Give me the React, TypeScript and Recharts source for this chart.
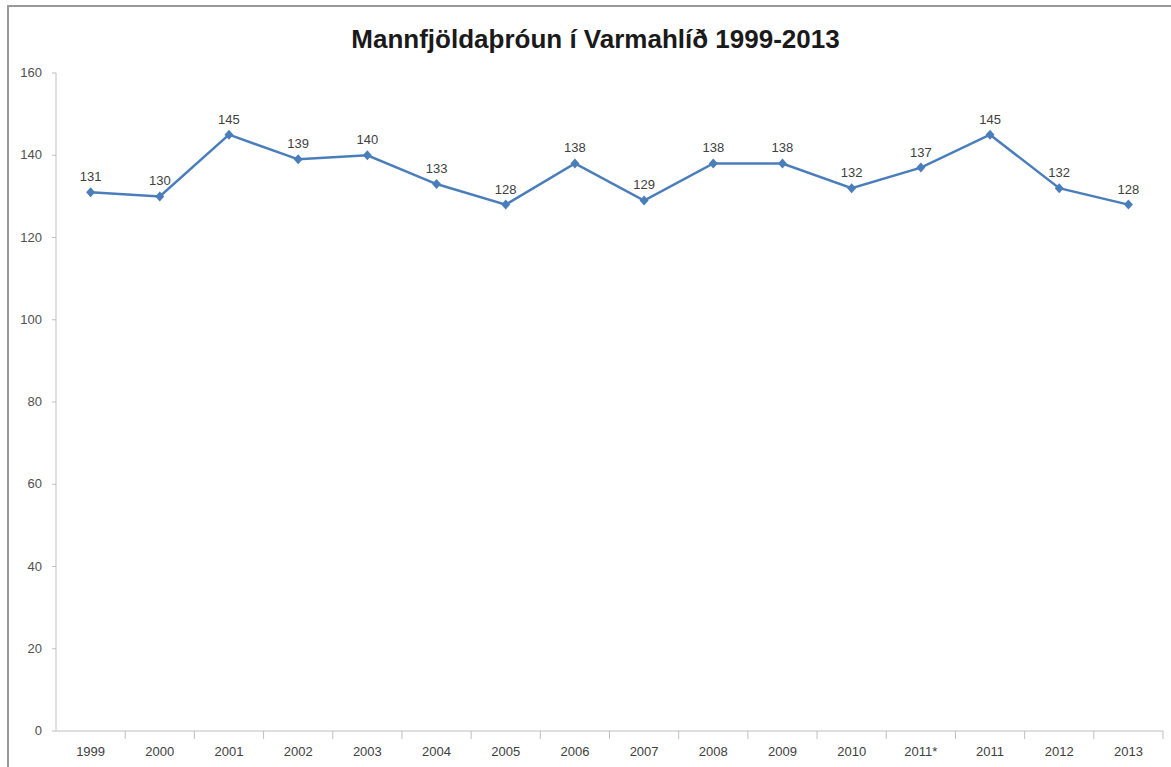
import React from 'react';
import { LineChart, Line, XAxis, YAxis, LabelList } from 'recharts';

const years = ['1999', '2000', '2001', '2002', '2003', '2004', '2005', '2006', '2007', '2008', '2009', '2010', '2011*', '2011', '2012', '2013'];
const population = [131, 130, 145, 139, 140, 133, 128, 138, 129, 138, 138, 132, 137, 145, 132, 128];
const yTicks = [0, 20, 40, 60, 80, 100, 120, 140, 160];

const data = years.map((year, i) => ({ year, value: population[i] }));

const W = 1171;
const H = 767;
const LEFT = 56;
const RIGHT = 8;
const band = (W - LEFT - RIGHT) / years.length;

const FONT = '"Liberation Sans", Arial, sans-serif';

function XTick(props: any) {
  const { x, y, payload } = props;
  return (
    <g>
      <line x1={x + band / 2} y1={y - 8} x2={x + band / 2} y2={y} stroke="#bfbfbf" />
      <text x={x} y={y + 17} textAnchor="middle" fontSize={13} fill="#404040" fontFamily={FONT}>
        {payload.value}
      </text>
    </g>
  );
}

function YTick(props: any) {
  const { x, y, payload } = props;
  return (
    <text x={x - 8} y={y + 4} textAnchor="end" fontSize={13} fill="#505050" fontFamily={FONT}>
      {payload.value}
    </text>
  );
}

export default function App() {
  return (
    <div style={{ position: 'absolute', left: 0, top: 0, width: W, height: H, background: '#fff', overflow: 'hidden' }}>
      <div
        style={{
          position: 'absolute',
          left: 7,
          top: 5,
          width: W,
          height: H,
          borderLeft: '2px solid #9a9a9a',
          borderTop: '2px solid #9a9a9a',
        }}
      />
      <div
        style={{
          position: 'absolute',
          left: 20,
          width: W - 20,
          top: 24,
          textAlign: 'center',
          fontFamily: FONT,
          fontWeight: 'bold',
          fontSize: 26,
          color: '#1a1a1a',
        }}
      >
        Mannfjöldaþróun í Varmahlíð 1999-2013
      </div>
      <div style={{ position: 'absolute', left: 0, top: 0 }}>
        <LineChart width={W} height={H} data={data} margin={{ top: 73, right: RIGHT, left: 0, bottom: 0 }}>
          <XAxis
            dataKey="year"
            height={36}
            axisLine={{ stroke: '#bfbfbf' }}
            tickLine={false}
            tick={<XTick />}
            interval={0}
            padding={{ left: band / 2, right: band / 2 }}
          />
          <YAxis
            width={LEFT}
            domain={[0, 160]}
            ticks={yTicks}
            axisLine={{ stroke: '#bfbfbf' }}
            tickLine={{ stroke: '#bfbfbf' }}
            tickSize={4}
            tick={<YTick />}
          />
          <Line
            type="linear"
            dataKey="value"
            stroke="#4a7ebb"
            strokeWidth={2.5}
            dot={(p: any) => (
              <path
                key={p.index}
                d={`M${p.cx},${p.cy - 5}L${p.cx + 4.5},${p.cy}L${p.cx},${p.cy + 5}L${p.cx - 4.5},${p.cy}Z`}
                fill="#4a7ebb"
              />
            )}
            isAnimationActive={false}
          >
            <LabelList dataKey="value" position="top" offset={11} fontSize={13} fill="#404040" fontFamily={FONT} />
          </Line>
        </LineChart>
      </div>
    </div>
  );
}
